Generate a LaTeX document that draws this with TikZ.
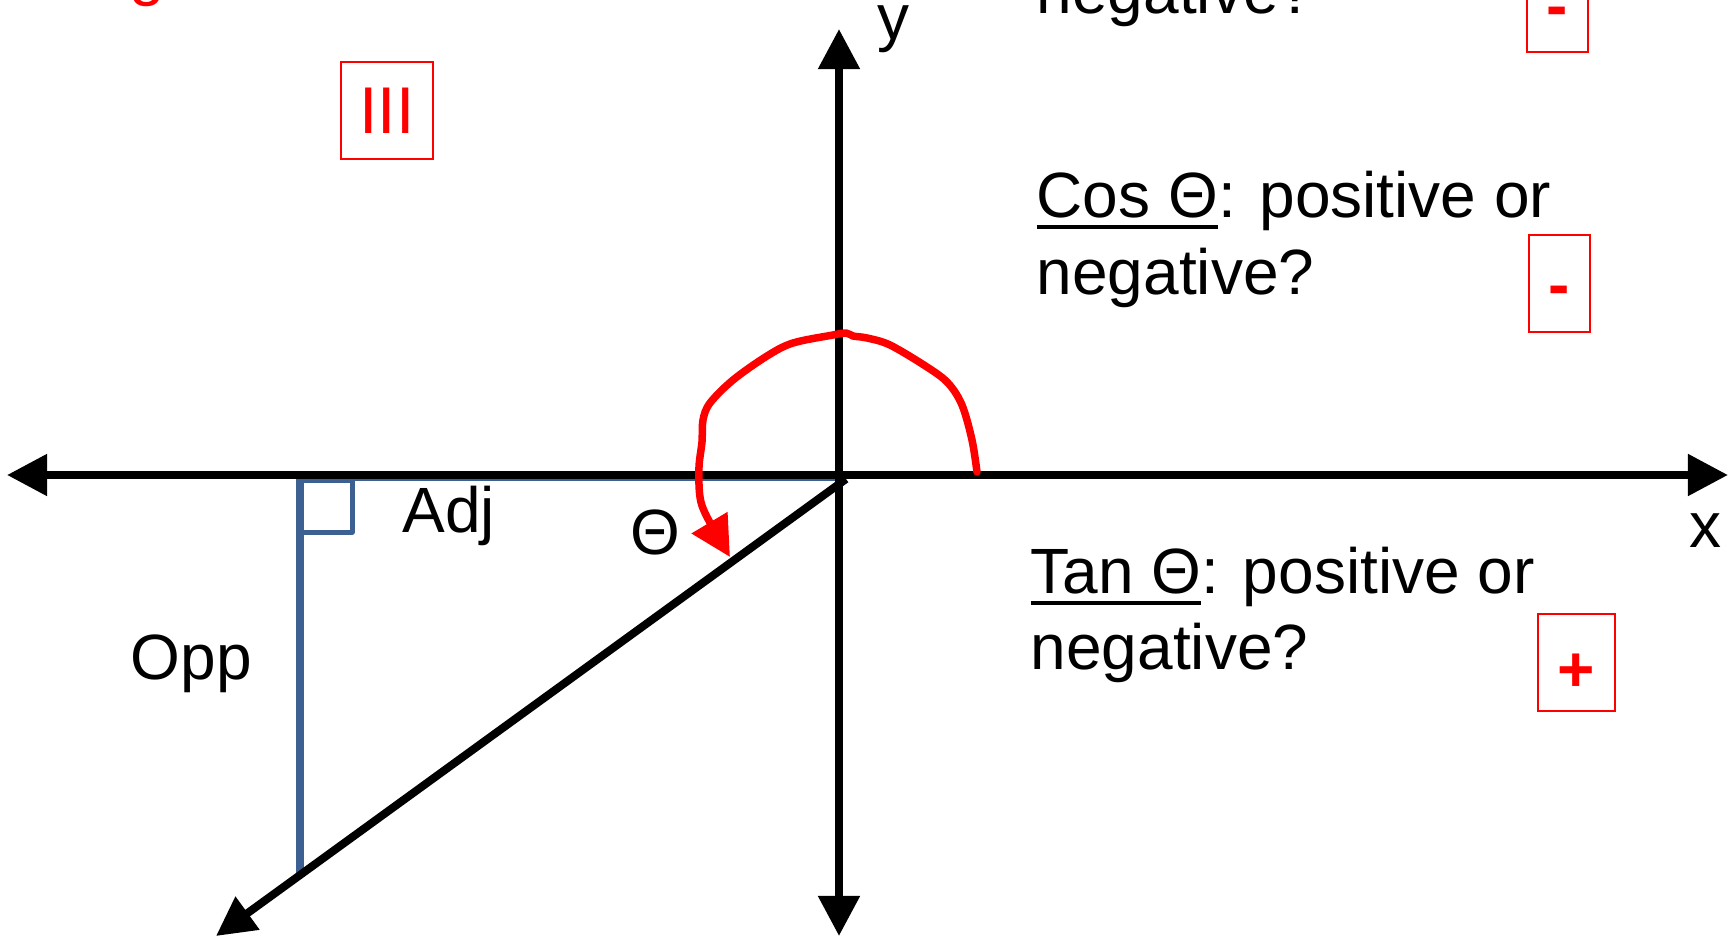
\documentclass[tikz,border=0pt]{standalone}
\usepackage{fontspec}
\setmainfont{Liberation Sans}
\usetikzlibrary{arrows.meta}
\definecolor{bluetri}{RGB}{60,96,145}
\newcommand\myul[1]{\setbox0\hbox{#1}\rlap{\rule[-3.3pt]{\wd0}{1pt}}\box0}
\begin{document}
\begin{tikzpicture}[x=0.01cm,y=-0.01cm,
  txt/.style={inner sep=0pt, anchor=base west, font=\fontsize{18.2pt}{22pt}\selectfont},
  redtxt/.style={txt, text=red},
  sign/.style={inner sep=0pt, anchor=base, text=red, font=\fontsize{18.2pt}{22pt}\selectfont\bfseries},
  redbox/.style={draw=red, line width=0.02cm, inner sep=0pt},
  axisline/.style={line width=0.08cm, {Triangle[length=0.4cm,width=0.4cm]}-{Triangle[length=0.4cm,width=0.4cm]}},
  vecline/.style={line width=0.08cm, -{Triangle[length=0.39cm,width=0.39cm]}},
  bluethin/.style={draw=bluetri, line width=0.035cm},
  bluethick/.style={draw=bluetri, line width=0.07cm, line join=round, line cap=round},
  bluebox/.style={draw=bluetri, line width=0.05cm, line join=round},
  anglearc/.style={draw=red, line width=0.075cm, line cap=round, line join=round, -{Triangle[length=0.4cm,width=0.4cm]}}]
\useasboundingbox (0,0) rectangle (1729,936);
\clip (0,0) rectangle (1729,936);
% coordinates
\coordinate (O) at (839,475);
\coordinate (xl) at (7,475);
\coordinate (xr) at (1728,475);
\coordinate (yt) at (839,29);
\coordinate (yb) at (839,936);
\coordinate (D0) at (846,479);
\coordinate (Dt) at (216,936);
\coordinate (B1) at (300,479);
\coordinate (B2) at (843,479);
\coordinate (B3) at (300,875);
\coordinate (R1) at (300,480);
\coordinate (R2) at (352,532);
% blue triangle
\draw[bluethin] (B1) -- (B2);
\draw[bluethick] (B1) -- (B3);
\draw[bluebox] (R1) rectangle (R2);
% axes
\draw[axisline] (xl) -- (xr);
\draw[axisline] (yt) -- (yb);
\draw[vecline] (D0) -- (Dt);
% red angle arrow
\draw[anglearc] plot[smooth, tension=0.55] coordinates {(977,472) (972,440) (962,405) (948,383) (927,367) (890,345) (867,338) (853,336) (846,333) (833,335) (793,343) (767,356) (733,380) (710,403) (703,420) (702,442) (699,467) (700,497) (707,517) (730,557)};
% labels
\node[txt] (ylab) at (877,39) {y};
\node[txt] (xlab) at (1689,547) {x};
\node[txt] (adj) at (402,532) {Adj};
\node[txt] (opp) at (130,679) {Opp};
\node[txt] (theta) at (630,554) {Θ};
% quadrant box
\node[redbox, minimum width=0.92cm, minimum height=0.97cm] (q3box) at (387,110.5) {};
\node[inner sep=0pt, anchor=base, text=red, font=\fontsize{18.8pt}{22pt}\selectfont] (q3) at (387,133) {III};
\node[redtxt] (topg) at (129,-7) {g};
% sin block (cut off)
\node[txt] (sin2) at (1036,13) {negative?};
\node[redbox, minimum width=0.61cm, minimum height=0.97cm] (sinbox) at (1557.5,3.5) {};
\node[sign] (sinsign) at (1557,27) {-};
% cos block
\node[txt] (cos1) at (1036,217) {\myul{Cos Θ}: positive or};
\node[txt] (cos2) at (1036,294) {negative?};
\node[redbox, minimum width=0.61cm, minimum height=0.97cm] (cosbox) at (1559.5,283.5) {};
\node[sign] (cossign) at (1559,306) {-};
% tan block
\node[txt] (tan1) at (1030,593) {\myul{Tan Θ}: positive or};
\node[txt] (tan2) at (1030,669) {negative?};
\node[redbox, minimum width=0.77cm, minimum height=0.97cm] (tanbox) at (1576.5,662.5) {};
\node[sign] (tansign) at (1576,691) {+};
\end{tikzpicture}
\end{document}
